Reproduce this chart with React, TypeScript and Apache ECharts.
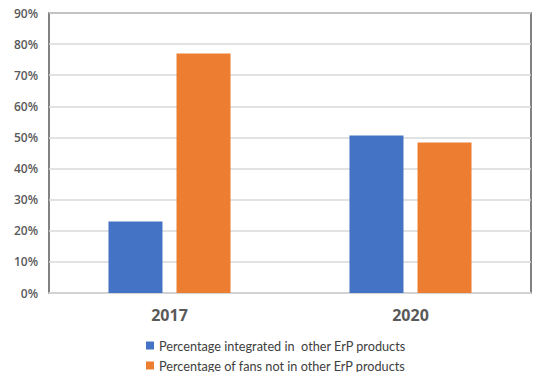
import React, { useEffect, useRef } from "react";
import * as echarts from "echarts";

const categories = ["2017", "2020"];
const integrated = [23, 50.6];
const notIntegrated = [77, 48.4];
const seriesNames = [
  "Percentage integrated in  other ErP products",
  "Percentage of fans not in other ErP products",
];

export default function App() {
  const ref = useRef<HTMLDivElement>(null);
  useEffect(() => {
    const chart = echarts.init(ref.current!, undefined, { renderer: "svg" });
    chart.setOption({
      animation: false,
      backgroundColor: "#ffffff",
      textStyle: { fontFamily: "Open Sans, Noto Sans, sans-serif" },
      grid: {
        left: 49,
        right: 19,
        top: 13,
        bottom: 87,
        show: true,
        borderColor: "#595959",
        borderWidth: 1.5,
      },
      legend: {
        orient: "vertical",
        left: 141,
        top: 334,
        itemWidth: 8,
        itemHeight: 8,
        itemGap: 7,
        icon: "rect",
        textStyle: { fontSize: 12.7, color: "#404040", fontFamily: "Lato, sans-serif" },
        data: seriesNames,
      },
      xAxis: {
        type: "category",
        data: categories,
        axisLine: { lineStyle: { color: "#d9d9d9", width: 1.5 } },
        axisTick: { show: false },
        axisLabel: {
          fontSize: 16,
          fontWeight: "bold",
          color: "#595959",
          margin: 14,
        },
      },
      yAxis: {
        type: "value",
        min: 0,
        max: 90,
        interval: 10,
        axisLine: { show: false },
        axisTick: { show: false },
        splitLine: { lineStyle: { color: "#d9d9d9", width: 1.5 } },
        axisLabel: {
          formatter: "{value}%",
          fontSize: 12,
          fontWeight: 600,
          color: "#595959",
          margin: 11,
        },
      },
      series: [
        {
          name: seriesNames[0],
          type: "bar",
          data: integrated,
          barWidth: 54,
          barGap: "26%",
          itemStyle: { color: "#4472c4" },
        },
        {
          name: seriesNames[1],
          type: "bar",
          data: notIntegrated,
          barWidth: 54,
          itemStyle: { color: "#ed7d31" },
        },
      ],
    });
    return () => chart.dispose();
  }, []);
  return <div ref={ref} style={{ width: 550, height: 380, margin: -8 }} />;
}
